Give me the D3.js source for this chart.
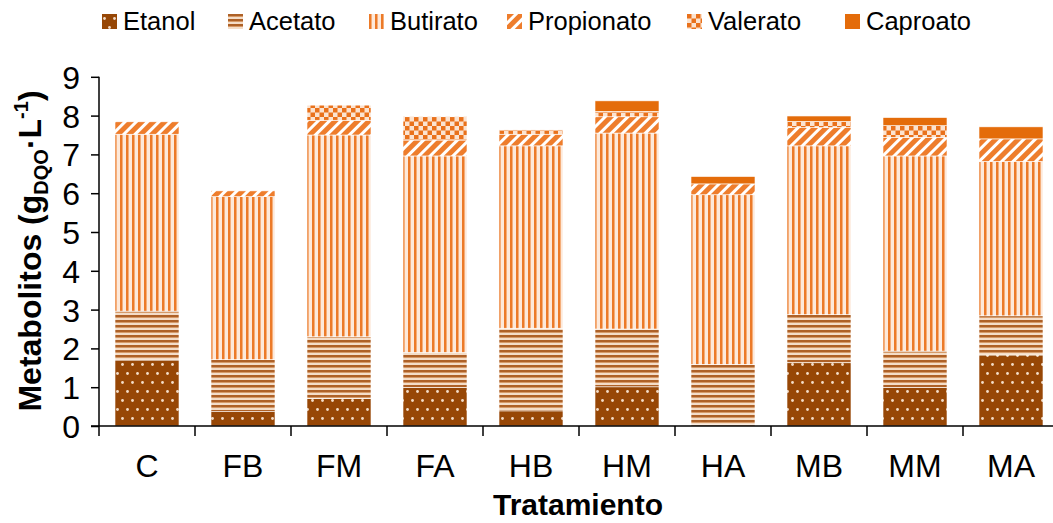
<!DOCTYPE html>
<html>
<head>
<meta charset="utf-8">
<script src="https://cdn.jsdelivr.net/npm/d3@7"></script>
<style>
  html, body { margin: 0; padding: 0; background: #fff; }
  svg { display: block; font-family: "Liberation Sans", Arial, sans-serif; }
</style>
</head>
<body>
<svg id="chart" width="1053" height="523"></svg>
<script>
// ---- data ----
const categories = ["C", "FB", "FM", "FA", "HB", "HM", "HA", "MB", "MM", "MA"];
const etanol     = [1.70, 0.37, 0.71, 0.99, 0.39, 1.01, 0.03, 1.63, 0.99, 1.83];
const acetato    = [1.26, 1.34, 1.59, 0.91, 2.13, 1.49, 1.56, 1.24, 0.94, 1.01];
const butirato   = [4.56, 4.20, 5.20, 5.06, 4.70, 5.05, 4.37, 4.35, 5.03, 3.98];
const propionato = [0.32, 0.15, 0.38, 0.41, 0.30, 0.42, 0.28, 0.47, 0.48, 0.58];
const valerato   = [0.00, 0.00, 0.39, 0.60, 0.11, 0.14, 0.00, 0.16, 0.30, 0.00];
const caproato   = [0.00, 0.00, 0.00, 0.00, 0.00, 0.27, 0.19, 0.14, 0.21, 0.31];
const seriesNames = ["Etanol", "Acetato", "Butirato", "Propionato", "Valerato", "Caproato"];
const yTicks = [0, 1, 2, 3, 4, 5, 6, 7, 8, 9];

const seriesValues = [etanol, acetato, butirato, propionato, valerato, caproato];
const table = categories.map((c, i) => {
  const row = { cat: c };
  seriesNames.forEach((s, k) => row[s] = seriesValues[k][i]);
  return row;
});

const svg = d3.select("#chart");
const W = 1053, H = 523;

// ---- patterns ----
const defs = svg.append("defs");
function pat(id, w, h, build, transform) {
  const p = defs.append("pattern").attr("id", id)
    .attr("patternUnits", "userSpaceOnUse").attr("width", w).attr("height", h);
  if (transform) p.attr("patternTransform", transform);
  build(p);
}
// Etanol: dark brown with light dots
pat("p-etanol", 10, 18, p => {
  p.append("rect").attr("width", 10).attr("height", 18).attr("fill", "#974706");
  p.append("circle").attr("cx", 2.5).attr("cy", 4.5).attr("r", 1.4).attr("fill", "#F3DCC8");
  p.append("circle").attr("cx", 7.5).attr("cy", 13.5).attr("r", 1.4).attr("fill", "#F3DCC8");
});
// Acetato: horizontal brown stripes
pat("p-acetato", 10, 5, p => {
  p.append("rect").attr("width", 10).attr("height", 5).attr("fill", "#F4DDC8");
  p.append("rect").attr("y", 0).attr("width", 10).attr("height", 2).attr("fill", "#AE6127");
  p.append("rect").attr("y", 2).attr("width", 10).attr("height", 1).attr("fill", "#D69A68");
});
// Butirato: vertical orange stripes
pat("p-butirato", 6, 10, p => {
  p.append("rect").attr("width", 6).attr("height", 10).attr("fill", "#FDE9DA");
  p.append("rect").attr("x", 0).attr("width", 2).attr("height", 10).attr("fill", "#EC7A28");
  p.append("rect").attr("x", 2).attr("width", 1).attr("height", 10).attr("fill", "#F4AE7A");
});
// Propionato: wide diagonal stripes
pat("p-propionato", 8, 10, p => {
  p.append("rect").attr("width", 8).attr("height", 10).attr("fill", "#FFFFFF");
  p.append("rect").attr("x", 0).attr("width", 5).attr("height", 10).attr("fill", "#EE7D2C");
}, "rotate(45)");
// Valerato: checkerboard
pat("p-valerato", 9, 9, p => {
  p.append("rect").attr("width", 9).attr("height", 9).attr("fill", "#FBE3D0");
  p.append("rect").attr("x", 0).attr("y", 0).attr("width", 4.5).attr("height", 4.5).attr("fill", "#E9711B");
  p.append("rect").attr("x", 4.5).attr("y", 4.5).attr("width", 4.5).attr("height", 4.5).attr("fill", "#E9711B");
});
const fills = {
  "Etanol": "url(#p-etanol)",
  "Acetato": "url(#p-acetato)",
  "Butirato": "url(#p-butirato)",
  "Propionato": "url(#p-propionato)",
  "Valerato": "url(#p-valerato)",
  "Caproato": "#E46C0A"
};

// ---- scales ----
const x0 = 99, x1 = 1059, yBase = 426, yTop = 76.8;
const x = d3.scaleBand().domain(categories).range([x0, x1])
  .paddingInner(1 / 3).paddingOuter(1 / 6);
const y = d3.scaleLinear().domain([0, 9]).range([yBase, yTop]);

// ---- bars ----
const stack = d3.stack().keys(seriesNames)(table);
const g = svg.append("g");
g.selectAll("g.series").data(stack).join("g")
  .attr("class", "series")
  .attr("fill", d => fills[d.key])
  .selectAll("rect").data(d => d.filter(v => v[1] - v[0] > 0)).join("rect")
  .attr("x", d => x(d.data.cat))
  .attr("width", x.bandwidth())
  .attr("y", d => y(d[1]))
  .attr("height", d => y(d[0]) - y(d[1]))
  .attr("stroke", "#ffffff").attr("stroke-width", 0.6);

// ---- axes ----
const yAxis = d3.axisLeft(y).tickValues(yTicks).tickSize(8).tickPadding(11).tickFormat(d3.format("d"));
const ya = svg.append("g").attr("transform", `translate(${x0},0)`).call(yAxis);
ya.select(".domain").attr("stroke", "#000").attr("stroke-width", 1.5).attr("d", `M0,${yTop}V${yBase + 10}`);
ya.selectAll(".tick line").attr("stroke", "#000").attr("stroke-width", 1.5);
ya.selectAll(".tick text").attr("font-size", 32).attr("fill", "#000")
  .attr("font-family", "Liberation Sans, Arial, sans-serif").attr("dy", "0.36em");

// x axis line and boundary ticks
const xa = svg.append("g");
xa.append("line").attr("x1", x0 - 8).attr("x2", W).attr("y1", yBase).attr("y2", yBase)
  .attr("stroke", "#000").attr("stroke-width", 1.5);
const boundaries = categories.slice(1).map(c => x(c) - x.step() * x.paddingInner() / 2);
xa.selectAll("line.bt").data(boundaries).join("line").attr("class", "bt")
  .attr("x1", d => d).attr("x2", d => d).attr("y1", yBase).attr("y2", yBase + 10)
  .attr("stroke", "#000").attr("stroke-width", 1.5);
xa.selectAll("text").data(categories).join("text")
  .attr("x", d => x(d) + x.bandwidth() / 2).attr("y", 477)
  .attr("text-anchor", "middle").attr("font-size", 32).attr("fill", "#000")
  .text(d => d);

// axis titles
svg.append("text").attr("x", 578).attr("y", 515).attr("text-anchor", "middle")
  .attr("font-size", 30).attr("font-weight", "bold").text("Tratamiento");

const yt = svg.append("text").attr("transform", "translate(41,251) rotate(-90)")
  .attr("text-anchor", "middle").attr("font-size", 32).attr("font-weight", "bold");
yt.append("tspan").text("Metabolitos (g");
yt.append("tspan").attr("font-size", 20).attr("dy", 7).text("DQO");
yt.append("tspan").attr("dy", -7).text("·L");
yt.append("tspan").attr("font-size", 20).attr("dy", -13).text("-1");
yt.append("tspan").attr("dy", 13).text(")");

// ---- legend ----
const legendX = [102, 228, 369, 507, 687, 845];
const lg = svg.append("g");
seriesNames.forEach((s, i) => {
  const gi = lg.append("g").attr("transform", `translate(${legendX[i]},14)`);
  gi.append("rect").attr("width", 15).attr("height", 15).attr("fill", fills[s]);
  gi.append("text").attr("x", 21).attr("y", 16).attr("font-size", 25.5).attr("fill", "#000").text(s);
});
</script>
</body>
</html>
